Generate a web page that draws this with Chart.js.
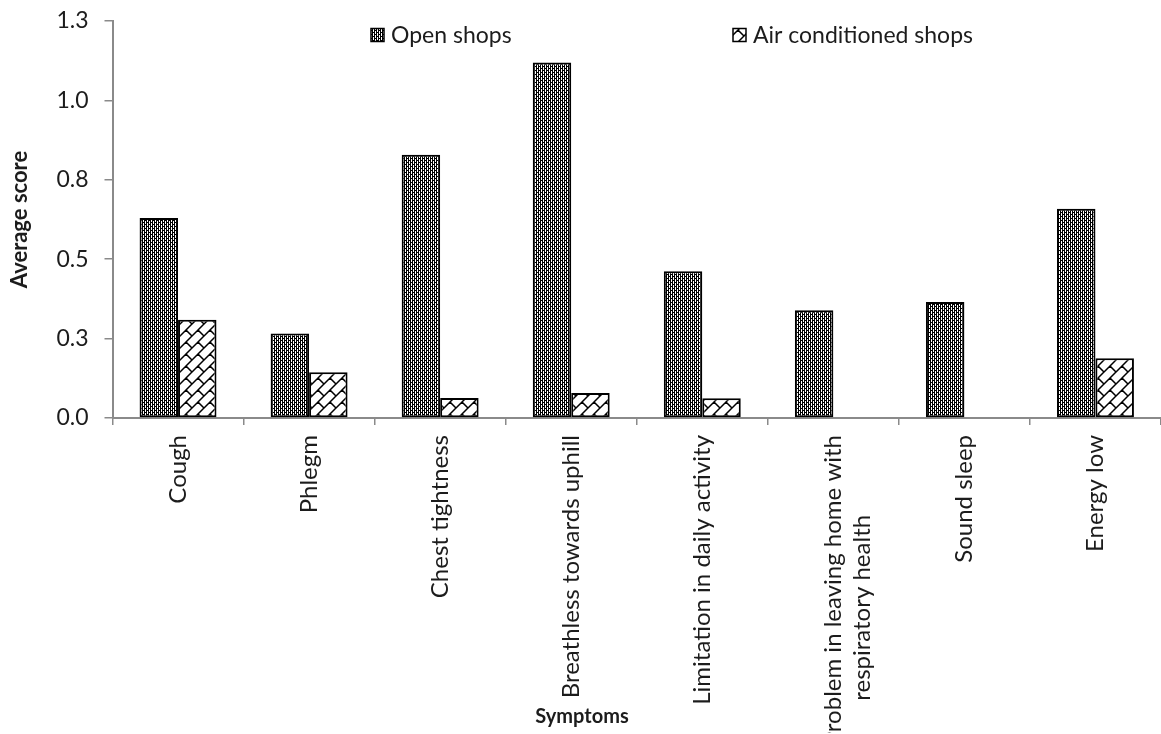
<!DOCTYPE html>
<html>
<head>
<meta charset="utf-8">
<script src="https://cdn.jsdelivr.net/npm/chart.js@4.4.1/dist/chart.umd.min.js"></script>
<style>
  html, body { margin: 0; padding: 0; background: #ffffff; overflow: hidden; }
  #wrap { width: 1161px; height: 734px; position: relative; }
</style>
</head>
<body>
<div id="wrap"><canvas id="chart" width="1161" height="734"></canvas></div>
<script>
// Symptom categories (x axis); the two-line label keeps its second line centred
const categories = [
  'Cough',
  'Phlegm',
  'Chest tightness',
  'Breathless towards uphill',
  'Limitation in daily activity',
  ['Problem in leaving home with', 'respiratory health' + ' '.repeat(13)],
  'Sound sleep',
  'Energy low'
];

// Average symptom scores per shop type
const openShops = [0.630, 0.266, 0.829, 1.119, 0.462, 0.339, 0.365, 0.659];
const acShops   = [0.309, 0.144, 0.063, 0.079, 0.062, 0.000, 0.000, 0.188];

const seriesNames = ['Open shops', 'Air conditioned shops'];

// Value axis labels (one decimal place)
const yTickLabels = ['0.0', '0.3', '0.5', '0.8', '1.0', '1.3'];

const FONT = 'Lato';
const TEXT = '#1c1c1c';
const AXIS = '#8a8a8a';

// Dense woven texture for the open-shop bars
function makeWovenPattern() {
  const rows = ['1110', '1010', '1011', '1010'];
  const c = document.createElement('canvas');
  c.width = rows[0].length; c.height = rows.length;
  const g = c.getContext('2d');
  g.fillStyle = '#ffffff'; g.fillRect(0, 0, c.width, c.height);
  g.fillStyle = '#000000';
  rows.forEach((r, y) => { [...r].forEach((b, x) => { if (b === '1') g.fillRect(x, y, 1, 1); }); });
  return g.createPattern(c, 'repeat');
}

// Diagonal brick texture for the air-conditioned-shop bars
function makeBrickPattern() {
  const s = 12;
  const c = document.createElement('canvas');
  c.width = s; c.height = s;
  const g = c.getContext('2d');
  g.fillStyle = '#ffffff'; g.fillRect(0, 0, s, s);
  g.strokeStyle = '#000000'; g.lineWidth = 1.5; g.lineCap = 'square';
  g.beginPath();
  for (const k of [-1, 0, 1]) {
    g.moveTo(k * s, s); g.lineTo(k * s + s, 0);
  }
  g.moveTo(s / 2, s / 2); g.lineTo(s, s);
  g.moveTo(s / 2 - s, s / 2); g.lineTo(0, s);
  g.moveTo(s / 2, s / 2 - s); g.lineTo(s, 0);
  g.stroke();
  return g.createPattern(c, 'repeat');
}

const fills = [makeWovenPattern(), makeBrickPattern()];

// Legend drawn in one row above the plot
const legendRow = {
  id: 'legendRow',
  afterDraw(chart) {
    const ctx = chart.ctx;
    const xs = [371, 733];
    const yMid = 35, box = 13;
    ctx.save();
    ctx.font = `23px ${FONT}`;
    ctx.textBaseline = 'middle';
    ctx.textAlign = 'left';
    chart.data.datasets.forEach((ds, i) => {
      const x = xs[i];
      ctx.fillStyle = ds.backgroundColor;
      ctx.fillRect(x, yMid - box / 2, box, box);
      ctx.strokeStyle = '#000000';
      ctx.lineWidth = 1.5;
      ctx.strokeRect(x, yMid - box / 2, box, box);
      ctx.fillStyle = TEXT;
      ctx.fillText(ds.label, x + box + 7, yMid + 1);
    });
    ctx.restore();
  }
};

new Chart(document.getElementById('chart'), {
  type: 'bar',
  data: {
    labels: categories,
    datasets: [
      {
        label: seriesNames[0], data: openShops,
        backgroundColor: fills[0], borderColor: '#000000', borderWidth: 2,
        borderSkipped: false, categoryPercentage: 0.587, barPercentage: 1.0
      },
      {
        label: seriesNames[1], data: acShops,
        backgroundColor: fills[1], borderColor: '#000000', borderWidth: 2,
        borderSkipped: false, categoryPercentage: 0.587, barPercentage: 1.0
      }
    ]
  },
  options: {
    responsive: false,
    animation: false,
    layout: { padding: { top: 21, left: 3, right: 0, bottom: 0 } },
    plugins: {
      legend: { display: false },
      tooltip: { enabled: false },
      // axis caption sits over the lower edge of the label band
      title: {
        display: true, position: 'bottom', text: 'Symptoms', color: TEXT,
        font: { family: FONT, size: 20, weight: 'bold' },
        padding: { top: -28, bottom: 5 }
      }
    },
    scales: {
      x: {
        ticks: {
          autoSkip: false, minRotation: 90, maxRotation: 90, padding: 10,
          color: TEXT, font: { family: FONT, size: 24 }
        },
        grid: {
          display: true, drawOnChartArea: false, drawTicks: true, offset: true,
          tickLength: 7, color: AXIS, lineWidth: 1.5
        },
        border: { display: true, color: AXIS, width: 2 },
        afterFit(scale) { scale.height = 315; }
      },
      y: {
        min: 0, max: 1.25,
        ticks: {
          stepSize: 0.25, padding: 16, color: TEXT,
          font: { family: FONT, size: 23 },
          callback: (v, i) => yTickLabels[i]
        },
        grid: {
          display: true, drawOnChartArea: false, drawTicks: true,
          tickLength: 8, color: AXIS, lineWidth: 1.5
        },
        border: { display: true, color: AXIS, width: 2 },
        title: {
          display: true, text: 'Average score', color: TEXT,
          font: { family: FONT, size: 22, weight: 'bold' },
          padding: { top: 4, bottom: 7 }
        },
        // the outer layout padding alone sets the top of the plot
        afterFit(scale) { scale.paddingTop = 0; scale.paddingBottom = 0; }
      }
    }
  },
  plugins: [legendRow]
});
</script>
</body>
</html>
